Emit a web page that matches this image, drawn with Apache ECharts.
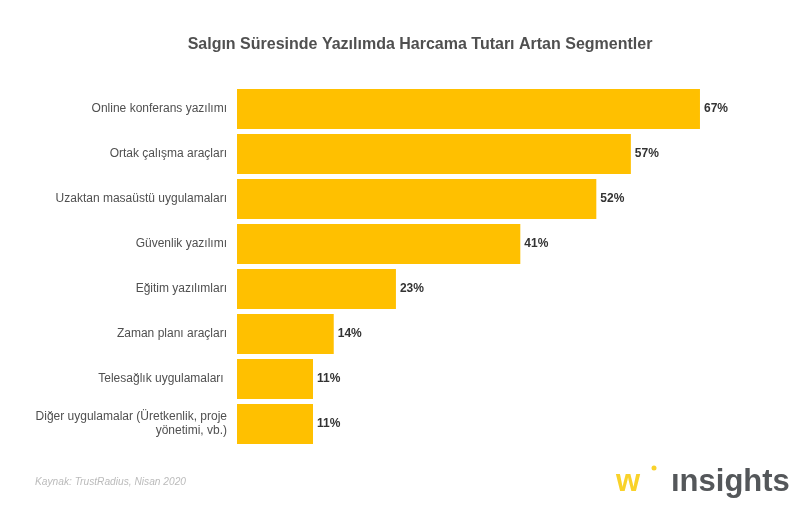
<!DOCTYPE html>
<html><head><meta charset="utf-8">
<script src="https://cdn.jsdelivr.net/npm/echarts@6/dist/echarts.min.js"></script>
<style>html,body{margin:0;padding:0;background:#fff}#c{width:802px;height:513px}</style>
</head><body><div id="c"></div>
<script>
const categories = [
  "Online konferans yazılımı",
  "Ortak çalışma araçları",
  "Uzaktan masaüstü uygulamaları",
  "Güvenlik yazılımı",
  "Eğitim yazılımları",
  "Zaman planı araçları",
  "Telesağlık uygulamaları ",
  "Diğer uygulamalar (Üretkenlik, proje\nyönetimi, vb.)"
];
const values = [67, 57, 52, 41, 23, 14, 11, 11];
const titleText = "Salgın Süresinde Yazılımda Harcama Tutarı Artan Segmentler";
const sourceText = "Kaynak: TrustRadius, Nisan 2020";

const FONT = "'Liberation Sans', Arial, Helvetica, sans-serif";
const chart = echarts.init(document.getElementById('c'));
chart.setOption({
  backgroundColor: '#fff',
  animation: false,
  title: {
    text: titleText,
    left: 415, top: 32, textAlign: 'center',
    textStyle: {fontFamily: FONT, fontSize: 16, fontWeight: 'bold', color: '#505050'}
  },
  grid: {left: 237, top: 86.5, height: 360, width: 552.8, containLabel: false},
  xAxis: {type: 'value', min: 0, max: 80, show: false},
  yAxis: {
    type: 'category', inverse: true, data: categories,
    axisLine: {show: false}, axisTick: {show: false},
    axisLabel: {fontFamily: FONT, fontSize: 12, color: '#505050', margin: 10, align: 'right', lineHeight: 14}
  },
  series: [{
    type: 'bar', data: values, barCategoryGap: '11%',
    itemStyle: {color: '#FFC000'},
    label: {show: true, position: 'right', distance: 4, formatter: '{c}%',
      fontFamily: FONT, fontSize: 12, fontWeight: 'bold', color: '#333'}
  }],
  graphic: [
    {type: 'text', left: 35, top: 477, style: {text: sourceText, font: 'italic 10.2px ' + FONT, fill: '#bbb'}},
    {type: 'text', left: 616, top: 467, style: {text: 'w', font: 'bold 31px ' + FONT, fill: '#F9D22A'}},
    {type: 'circle', shape: {cx: 654, cy: 468, r: 2.5}, style: {fill: '#F9D22A'}},
    {type: 'text', left: 671, top: 467, style: {text: 'ınsights', font: 'bold 31px ' + FONT, fill: '#54575a'}}
  ]
});
</script></body></html>
